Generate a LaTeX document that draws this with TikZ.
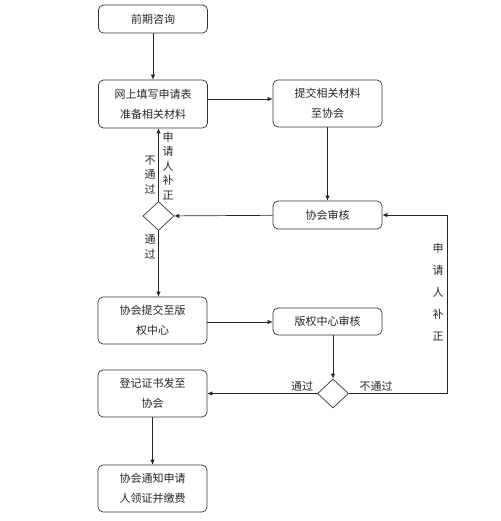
\documentclass[tikz,border=0pt]{standalone}
\usepackage{fontspec}
\newfontfamily\cjk{Noto Sans CJK SC}
\usetikzlibrary{shapes.geometric,arrows.meta}
\begin{document}
\begin{tikzpicture}[x=1pt,y=-1pt,
  every node/.style={font=\cjk\fontsize{11}{20}\selectfont, text=black!85},
  box/.style={draw=black!80, line width=0.7pt, rounded corners=5pt, minimum width=109pt, inner sep=0pt, align=center},
  dia/.style={draw=black!80, line width=0.7pt, diamond, aspect=1.1, minimum width=31pt, minimum height=29pt, inner sep=0pt},
  arr/.style={draw=black!85, line width=0.7pt, -{Latex[length=5pt,width=4.5pt]}},
  ln/.style={draw=black!85, line width=0.7pt},
  vlab/.style={align=center, inner sep=0pt, font=\cjk\fontsize{11}{14.5}\selectfont}
]
\useasboundingbox (0,0) rectangle (500,521);
\node[box, minimum height=28pt] (b1) at (153,19) {前期咨询};
\node[box, minimum height=48pt] (b2) at (153,104) {网上填写申请表\\准备相关材料};
\node[box, minimum height=47pt] (b3) at (327.5,103.5) {提交相关材料\\至协会};
\node[box, minimum height=28pt] (b4) at (327.5,215) {协会审核};
\node[dia] (d1) at (158.5,216) {};
\node[box, minimum height=47pt] (b5) at (152.5,320.5) {协会提交至版\\权中心};
\node[box, minimum height=27pt] (b6) at (327.5,321.5) {版权中心审核};
\node[dia] (d2) at (333,393.5) {};
\node[box, minimum height=47pt] (b7) at (152.5,393.5) {登记证书发至\\协会};
\node[box, minimum height=47pt] (b8) at (152.5,488.5) {协会通知申请\\人领证并缴费};
\coordinate (c1) at (447,393.5);
\coordinate (c2) at (447,215);

\draw[arr] (b1) -- (b2);
\draw[arr] (b2.east |- 0,99) -- (b3.west |- 0,99);
\draw[arr] (b3) -- (b4);
\draw[arr] (b4) -- (d1);
\draw[arr] (d1.north) -- (d1.north |- b2.south);
\draw[arr] (d1.south) -- (d1.south |- b5.north);
\draw[arr] (b5.east |- 0,322) -- (b6.west |- 0,322);
\draw[arr] (d2.north |- b6.south) -- (d2.north);
\draw[arr] (d2) -- (b7);
\draw[ln] (d2.east) -- (c1) -- (c2);
\draw[arr] (c2) -- (b4.east);
\draw[arr] (b7) -- (b8);

\node[vlab] (l1) at (150,175) {不\\通\\过};
\node[vlab] (l2) at (168,166) {申\\请\\人\\补\\正};
\node[vlab] (l3) at (150,247) {通\\过};
\node[inner sep=0pt] (l4) at (302,386) {通过};
\node[inner sep=0pt] (l5) at (376,386) {不通过};
\node[vlab, font=\cjk\fontsize{11}{22}\selectfont] (l6) at (438,292) {申\\请\\人\\补\\正};
\end{tikzpicture}
\end{document}
